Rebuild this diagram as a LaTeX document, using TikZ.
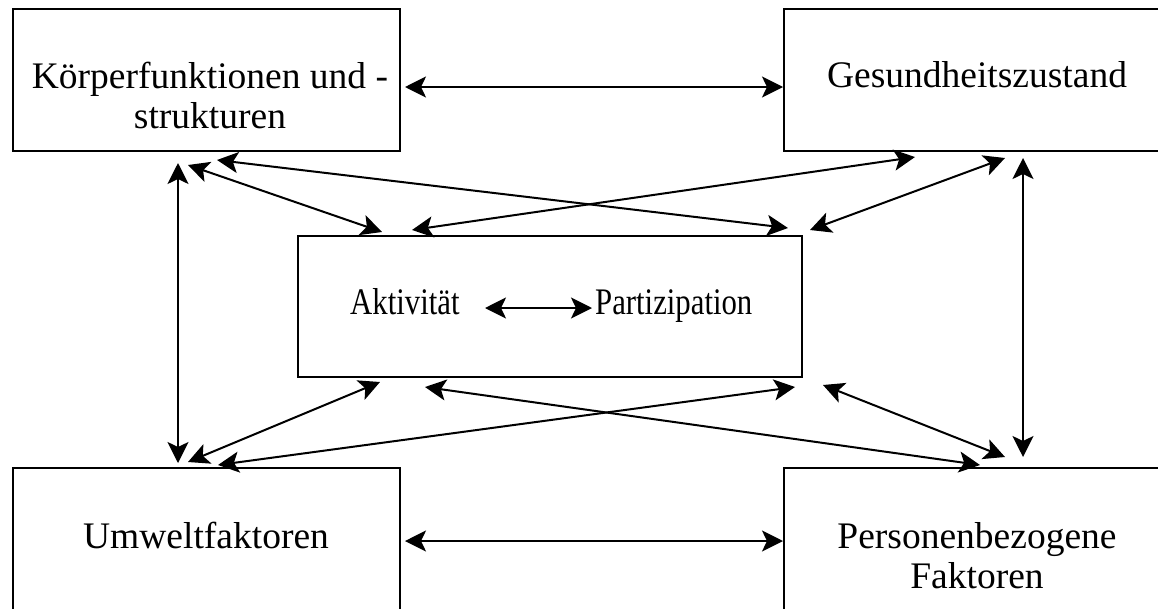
\documentclass[tikz,border=0pt]{standalone}
\usepackage{fontspec}
\setmainfont{Liberation Serif}
\usetikzlibrary{arrows.meta}
\begin{document}
\begin{tikzpicture}[x=1pt,y=-1pt,
  box/.style={draw,line width=2pt,minimum width=387pt,minimum height=142pt,inner sep=0pt},
  cbox/.style={draw,line width=2pt,minimum width=504pt,minimum height=141pt,inner sep=0pt},
  lbl/.style={font=\fontsize{37.5}{40}\selectfont,anchor=base,inner sep=0pt,align=center},
  conn/.style={line width=2pt,{Stealth[length=21pt,width=21pt,inset=5pt]}-{Stealth[length=21pt,width=21pt,inset=5pt]}}]
\useasboundingbox (0,0) rectangle (1158,608);
\fill[white] (0,0) rectangle (1158,608);
\begin{scope}
\clip (0,0) rectangle (1158,608);
\node[box] (tl) at (206.5,80) {};
\node[box] (tr) at (977.5,80) {};
\node[box] (bl) at (206.5,539) {};
\node[box] (br) at (977.5,539) {};
\node[cbox] (c) at (550,306.5) {};
\end{scope}
\node[lbl] (tlt) at (210,128) {Körperfunktionen und -\\strukturen};
\node[lbl] (trt) at (977,87) {Gesundheitszustand};
\node[lbl] (blt) at (206,548) {Umweltfaktoren};
\node[lbl] (brt) at (977,588) {Personenbezogene\\Faktoren};
\node[lbl,anchor=base west] (akt) at (350,314) {\scalebox{0.82}[1]{Aktivität}};
\node[lbl,anchor=base west] (par) at (595,314) {\scalebox{0.82}[1]{Partizipation}};
\coordinate (p1a) at (405,87);  \coordinate (p1b) at (783,87);
\coordinate (p2a) at (405,541); \coordinate (p2b) at (783,541);
\coordinate (p3a) at (178,163); \coordinate (p3b) at (178,463);
\coordinate (p4a) at (1023,158); \coordinate (p4b) at (1023,457);
\coordinate (p5a) at (188,165); \coordinate (p5b) at (382,232);
\coordinate (p6a) at (217,160); \coordinate (p6b) at (788,228);
\coordinate (p7a) at (412,230); \coordinate (p7b) at (915,157);
\coordinate (p8a) at (1005,158); \coordinate (p8b) at (810,230);
\coordinate (p9a) at (188,462); \coordinate (p9b) at (380,382);
\coordinate (p10a) at (218,465); \coordinate (p10b) at (795,387);
\coordinate (p11a) at (425,387); \coordinate (p11b) at (980,465);
\coordinate (p12a) at (823,385); \coordinate (p12b) at (1005,457);
\coordinate (p13a) at (485,308); \coordinate (p13b) at (592,308);
\draw[conn] (p1a) -- (p1b);
\draw[conn] (p2a) -- (p2b);
\draw[conn] (p3a) -- (p3b);
\draw[conn] (p4a) -- (p4b);
\draw[conn] (p5a) -- (p5b);
\draw[conn] (p6a) -- (p6b);
\draw[conn] (p7a) -- (p7b);
\draw[conn] (p8a) -- (p8b);
\draw[conn] (p9a) -- (p9b);
\draw[conn] (p10a) -- (p10b);
\draw[conn] (p11a) -- (p11b);
\draw[conn] (p12a) -- (p12b);
\draw[conn] (p13a) -- (p13b);
\end{tikzpicture}
\end{document}
